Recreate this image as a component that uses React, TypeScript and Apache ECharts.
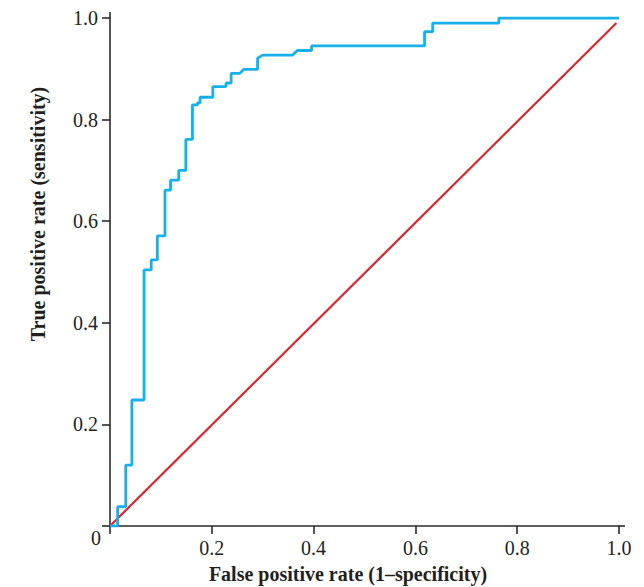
import React, { useEffect, useRef } from "react";
import * as echarts from "echarts";

const rocFpr = [
  0, 0.015, 0.015, 0.031, 0.031, 0.043, 0.043, 0.067, 0.067, 0.081, 0.081, 0.093, 0.093,
  0.108, 0.108, 0.119, 0.119, 0.135, 0.135, 0.149, 0.149, 0.162, 0.162, 0.172, 0.172, 0.177,
  0.177, 0.202, 0.202, 0.228, 0.228, 0.238, 0.238, 0.255, 0.263, 0.29, 0.29, 0.3, 0.359,
  0.368, 0.396, 0.396, 0.618, 0.618, 0.634, 0.634, 0.764, 0.764, 1.0,
];
const rocTpr = [
  0, 0, 0.038, 0.038, 0.12, 0.12, 0.248, 0.248, 0.504, 0.504, 0.524, 0.524, 0.571,
  0.571, 0.661, 0.661, 0.681, 0.681, 0.7, 0.7, 0.761, 0.761, 0.829, 0.829, 0.833, 0.833,
  0.844, 0.844, 0.865, 0.865, 0.872, 0.872, 0.891, 0.891, 0.899, 0.899, 0.921, 0.927, 0.927,
  0.936, 0.936, 0.945, 0.945, 0.973, 0.973, 0.99, 0.99, 1.0, 1.0,
];
const chanceX = [0, 0.995];
const chanceY = [0, 0.99];

const xTitle = "False positive rate (1–specificity)";
const yTitle = "True positive rate (sensitivity)";

const FONT = '"Liberation Serif", "Times New Roman", serif';
const TEXT = "#231f20";
const AXIS = "#2b2b2b";

export default function App() {
  const ref = useRef<HTMLDivElement>(null);
  useEffect(() => {
    if (!ref.current) return;
    const chart = echarts.init(ref.current, undefined, { renderer: "svg" });
    const fmt = (v: number) => (Math.abs(v) < 1e-9 ? "" : v.toFixed(1));
    const axisCommon = {
      type: "value" as const,
      min: 0,
      max: 1,
      interval: 0.2,
      splitLine: { show: false },
      axisLine: { show: true, lineStyle: { color: AXIS, width: 1.6 } },
      axisTick: { show: true, inside: false, length: 8, lineStyle: { color: AXIS, width: 1.6 } },
      axisLabel: {
        show: true,
        margin: 12,
        fontFamily: FONT,
        fontSize: 20,
        color: TEXT,
        formatter: fmt,
      },
    };
    chart.setOption({
      animation: false,
      backgroundColor: "#ffffff",
      grid: { left: 110, top: 18, width: 509, height: 508, containLabel: false },
      xAxis: { ...axisCommon },
      yAxis: { ...axisCommon },
      series: [
        {
          type: "line",
          name: "Chance",
          data: chanceX.map((x, i) => [x, chanceY[i]]),
          showSymbol: false,
          lineStyle: { color: "#d7262e", width: 2.2 },
          z: 2,
        },
        {
          type: "line",
          name: "ROC",
          data: rocFpr.map((x, i) => [x, rocTpr[i]]),
          showSymbol: false,
          lineStyle: { color: "#16b1ea", width: 2.8 },
          z: 3,
        },
      ],
      graphic: [
        {
          type: "line",
          shape: { x1: 619, y1: 526, x2: 625, y2: 526 },
          style: { stroke: AXIS, lineWidth: 1.6 },
        },
        {
          type: "line",
          shape: { x1: 110, y1: 18, x2: 110, y2: 12 },
          style: { stroke: AXIS, lineWidth: 1.6 },
        },
        {
          type: "text",
          x: 96,
          y: 538,
          style: {
            text: "0",
            font: `20px ${FONT}`,
            fill: TEXT,
            textAlign: "center",
            textVerticalAlign: "middle",
          },
        },
        {
          type: "text",
          x: 348,
          y: 574,
          style: {
            text: xTitle,
            font: `bold 20px ${FONT}`,
            fill: TEXT,
            textAlign: "center",
            textVerticalAlign: "middle",
          },
        },
        {
          type: "text",
          x: 38,
          y: 214,
          rotation: Math.PI / 2,
          style: {
            text: yTitle,
            font: `bold 20px ${FONT}`,
            fill: TEXT,
            textAlign: "center",
            textVerticalAlign: "middle",
          },
        },
      ],
    });
    return () => chart.dispose();
  }, []);
  return (
    <div
      ref={ref}
      style={{ position: "fixed", left: 0, top: 0, width: 644, height: 587 }}
    />
  );
}
